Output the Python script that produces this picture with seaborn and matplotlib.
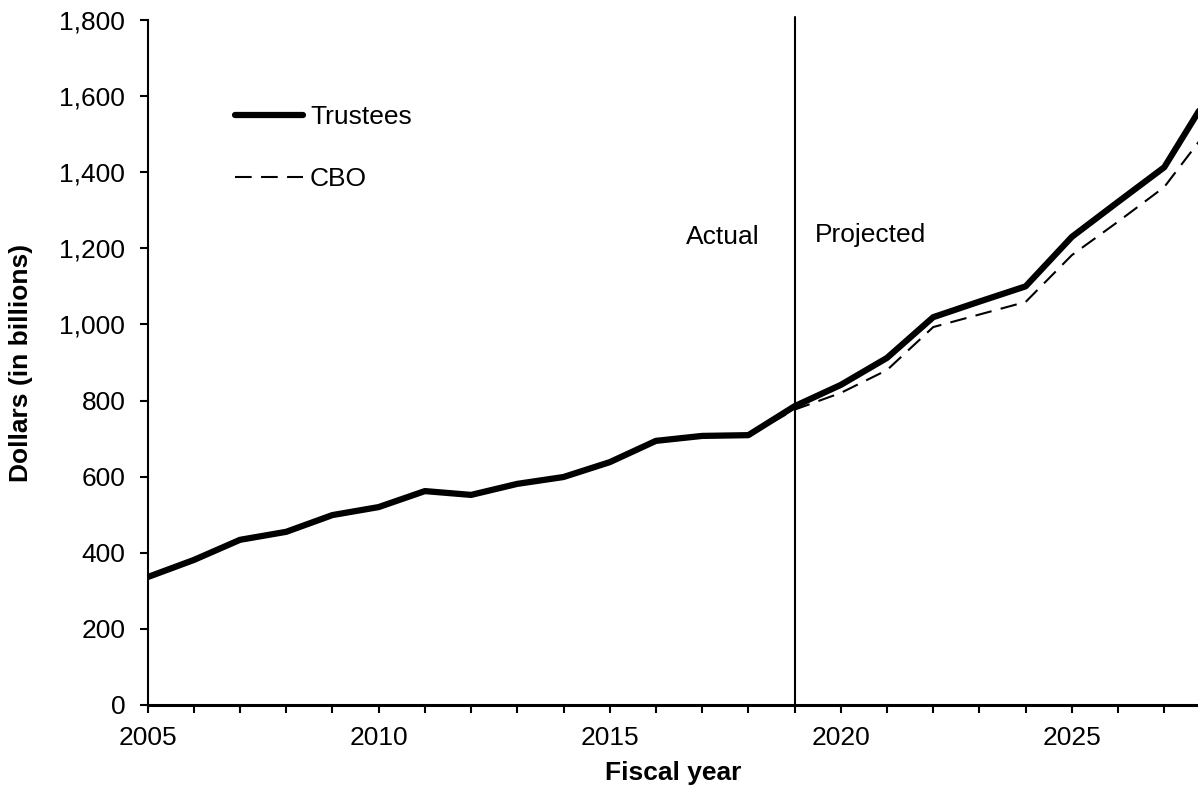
import numpy as np
import pandas as pd
import matplotlib
matplotlib.use("Agg")
import matplotlib.pyplot as plt
import seaborn as sns

# Trustees: actual 2005-2018, projected 2019-2028
trustees_years = list(range(2005, 2029))
trustees_values = [336, 381, 434, 455, 499, 520, 562, 552, 581, 599, 638, 694,
                   707, 709, 785, 841, 912, 1019, 1060, 1100, 1230, 1322, 1413, 1610]

# CBO projection (joins the actual line at 2018)
cbo_years = list(range(2018, 2029))
cbo_values = [709, 776, 820, 880, 993, 1026, 1059, 1182, 1270, 1361, 1520]

x_ticks = list(range(2005, 2028))
x_labels = [str(y) if y % 5 == 0 else "" for y in x_ticks]
y_ticks = list(range(0, 1801, 200))

sns.set_style("ticks")
plt.rcParams["font.family"] = ["Liberation Sans", "DejaVu Sans"]
plt.rcParams["text.color"] = "black"
plt.rcParams["axes.labelcolor"] = "black"
plt.rcParams["xtick.color"] = "black"
plt.rcParams["ytick.color"] = "black"
FS = 19

fig = plt.figure(figsize=(11.98, 7.89), dpi=100)
ax = fig.add_axes([0.1232, 0.1065, 0.8768, 0.8682])

trustees = pd.DataFrame({"year": trustees_years, "value": trustees_values})
cbo = pd.DataFrame({"year": cbo_years, "value": cbo_values})

sns.lineplot(data=cbo, x="year", y="value", ax=ax, color="black", lw=1.5,
             dashes=False, label="CBO", zorder=2).lines[-1].set_dashes((8, 4.5))
sns.lineplot(data=trustees, x="year", y="value", ax=ax, color="black", lw=4.5,
             label="Trustees", zorder=3)

ax.axvline(2019, color="black", lw=1.5, zorder=1, ymax=1.005, clip_on=False)

ax.text(2017.45, 1230, "Actual", fontsize=FS, ha="center", va="center")
ax.text(2019.45, 1236, "Projected", fontsize=FS, ha="left", va="center")

ax.set_xlim(2005, 2027.73)
ax.set_ylim(0, 1800)
ax.set_xticks(x_ticks)
ax.set_xticklabels(x_labels, fontsize=FS)
ax.set_yticks(y_ticks)
ax.set_yticklabels([f"{v:,}" for v in y_ticks], fontsize=FS)
ax.tick_params(axis="both", direction="out", length=6, width=1.5, color="black")
ax.tick_params(axis="x", pad=9)
ax.tick_params(axis="y", pad=10)

ax.set_xlabel("Fiscal year", fontsize=FS, fontweight="bold", labelpad=8)
ax.set_ylabel("Dollars (in billions)", fontsize=FS, fontweight="bold", labelpad=19)

for side in ["top", "right"]:
    ax.spines[side].set_visible(False)
ax.spines["left"].set_linewidth(1.5)
ax.spines["bottom"].set_linewidth(2.2)
ax.spines["left"].set_color("black")
ax.spines["bottom"].set_color("black")

handles, labels = ax.get_legend_handles_labels()
order = [labels.index("Trustees"), labels.index("CBO")]
ax.legend([handles[i] for i in order], [labels[i] for i in order],
          loc="upper left", bbox_to_anchor=(0.083, 0.876), frameon=False,
          fontsize=FS, handlelength=2.6, handletextpad=0.25, labelspacing=1.45,
          borderaxespad=0, borderpad=0)

fig.savefig("out.png", dpi=100)
